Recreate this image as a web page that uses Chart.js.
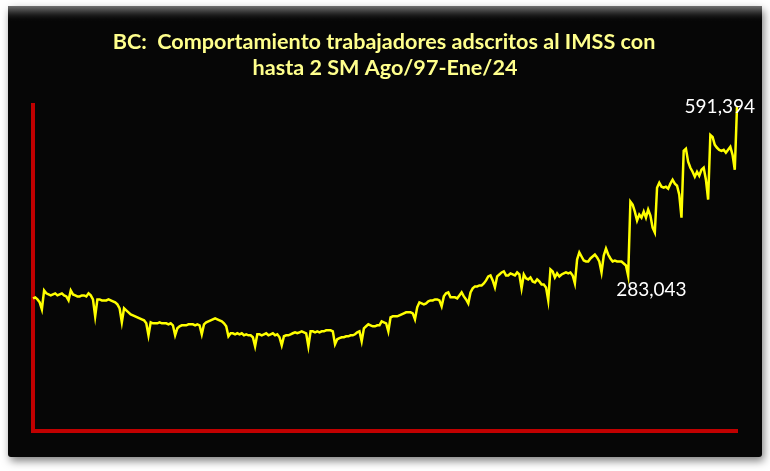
<!DOCTYPE html>
<html>
<head>
<meta charset="utf-8">
<script src="https://cdn.jsdelivr.net/npm/chart.js@4.4.1/dist/chart.umd.min.js"></script>
<style>
  html, body { margin: 0; padding: 0; background: #fff; }
  #graficoBC { display: block; }
</style>
</head>
<body>
<canvas id="graficoBC" width="770" height="471"></canvas>
<script>
// trabajadores con hasta 2 SM, BC, por año (1997 empieza en agosto)
const meses = ['Ene', 'Feb', 'Mar', 'Abr', 'May', 'Jun', 'Jul', 'Ago', 'Sep', 'Oct', 'Nov', 'Dic']

const trab1997 = [242100, 243900, 240200, 234800, 222000]
const trab1998 = [256600, 251200, 249300, 247500, 249300, 251200, 247500, 249300, 251200, 247500, 245700, 238400]
const trab1999 = [256600, 249300, 247500, 245700, 245700, 247500, 247500, 245700, 251200, 247500, 240200, 209300]
const trab2000 = [240200, 240200, 238400, 238400, 238400, 240200, 238400, 236600, 234800, 231100, 223900, 198400]
const trab2001 = [223900, 220200, 216600, 212900, 211100, 209300, 207500, 205700, 203800, 202000, 196600, 174700]
const trab2002 = [198400, 196600, 196600, 196600, 198400, 196600, 196600, 196600, 194700, 196600, 192900, 174700]
const trab2003 = [187500, 191100, 192900, 192900, 192900, 194700, 194700, 194700, 192900, 194700, 192900, 176500]
const trab2004 = [194700, 198400, 200200, 202000, 203800, 205700, 203800, 202000, 200200, 196600, 191100, 172900]
const trab2005 = [178400, 178400, 176500, 178400, 176500, 178400, 174700, 176500, 174700, 174700, 171100, 154700]
const trab2006 = [176500, 176500, 174700, 176500, 178400, 174700, 176500, 178400, 174700, 176500, 171100, 156500]
const trab2007 = [172900, 174700, 174700, 176500, 178400, 180200, 178400, 180200, 182000, 180200, 178400, 154700]
const trab2008 = [182000, 182000, 180200, 182000, 180200, 182000, 182000, 183800, 183800, 183800, 182000, 158300]
const trab2009 = [167400, 169300, 171100, 171100, 172900, 172900, 174700, 174700, 176500, 180200, 182000, 163800]
const trab2010 = [187500, 191100, 194700, 192900, 191100, 191100, 192900, 192900, 200200, 198400, 196600, 182000]
const trab2011 = [207500, 209300, 209300, 209300, 211100, 212900, 214800, 216600, 216600, 216600, 214800, 203800]
const trab2012 = [225700, 234800, 233000, 231100, 233000, 236600, 238400, 238400, 240200, 240200, 238400, 227500]
const trab2013 = [245700, 251200, 253000, 243900, 243900, 243900, 242100, 247500, 253000, 245700, 240200, 233000]
const trab2014 = [253000, 260300, 263900, 263900, 265700, 265700, 269400, 274800, 282100, 283900, 274800, 262100]
const trab2015 = [282100, 285700, 289400, 291200, 283900, 283900, 287600, 285700, 283900, 289400, 285700, 260300]
const trab2016 = [285700, 278500, 276600, 280300, 273000, 271200, 276600, 273000, 267500, 267500, 262100, 238400]
const trab2017 = [294800, 291200, 280300, 287600, 282100, 285700, 287600, 289400, 287600, 289400, 283900, 269400]
const trab2018 = [313000, 325800, 318500, 311200, 309400, 309400, 314900, 318500, 322100, 316700, 309400, 289400]
const trab2019 = [320300, 333100, 322100, 314900, 309400, 311200, 309400, 309400, 309400, 305800, 302100, 283043]
const trab2020 = [418600, 413100, 400400, 384000, 394900, 389500, 400400, 389500, 404000, 393100, 371300, 362200]
const trab2021 = [444100, 453200, 445900, 444100, 445900, 442300, 451400, 458600, 451400, 447700, 431300, 389500]
const trab2022 = [511400, 515100, 491400, 480500, 473200, 464100, 473200, 465900, 476800, 480500, 458600, 422200]
const trab2023 = [540500, 536900, 522300, 516900, 513200, 511400, 513200, 507800, 513200, 518700, 504100, 476800]
const trab2024 = [591394]

const anios = [
    [1997, trab1997], [1998, trab1998], [1999, trab1999], [2000, trab2000], [2001, trab2001],
    [2002, trab2002], [2003, trab2003], [2004, trab2004], [2005, trab2005], [2006, trab2006],
    [2007, trab2007], [2008, trab2008], [2009, trab2009], [2010, trab2010], [2011, trab2011],
    [2012, trab2012], [2013, trab2013], [2014, trab2014], [2015, trab2015], [2016, trab2016],
    [2017, trab2017], [2018, trab2018], [2019, trab2019], [2020, trab2020], [2021, trab2021],
    [2022, trab2022], [2023, trab2023], [2024, trab2024]
]

const titulo = ['BC:  Comportamiento trabajadores adscritos al IMSS con', 'hasta 2 SM Ago/97-Ene/24']
const etiquetaMinimo = 'Dic/19'
const etiquetaFinal = 'Ene/24'

let etiquetas = []
let valores = []
anios.forEach(([anio, datos]) => {
    let inicio = anio === 1997 ? 7 : 0
    datos.forEach((v, i) => {
        etiquetas.push(meses[inicio + i] + '/' + String(anio).slice(2))
        valores.push(v)
    })
})

function formato(n) {
    return n.toLocaleString('en-US')
}

// fondo negro con sombra, titulo y etiquetas
const fondoPanel = {
    id: 'fondoPanel',
    beforeDraw(chart) {
        const ctx = chart.ctx
        ctx.save()
        ctx.fillStyle = '#ffffff'
        ctx.fillRect(0, 0, chart.width, chart.height)
        ctx.shadowColor = 'rgba(0,0,0,0.5)'
        ctx.shadowBlur = 8
        ctx.shadowOffsetX = 2
        ctx.shadowOffsetY = 4
        ctx.fillStyle = '#060606'
        ctx.beginPath()
        ctx.roundRect(8, 6, 754, 451, 3)
        ctx.fill()
        ctx.shadowColor = 'transparent'
        let grad = ctx.createLinearGradient(0, 6, 0, 22)
        grad.addColorStop(0, '#707070')
        grad.addColorStop(0.35, '#3a3a3a')
        grad.addColorStop(1, 'rgba(6,6,6,0)')
        ctx.fillStyle = grad
        ctx.fillRect(8, 6, 754, 16)
        ctx.restore()
    },
    afterDraw(chart) {
        const ctx = chart.ctx
        ctx.save()
        ctx.fillStyle = '#ffff8c'
        ctx.textAlign = 'center'
        ctx.textBaseline = 'middle'
        ctx.font = 'bold 21.6px Lato'
        ctx.fillText(titulo[0], 384, 42)
        ctx.fillText(titulo[1], 385, 68)
        ctx.restore()
    },
    afterDatasetsDraw(chart) {
        const ctx = chart.ctx
        const meta = chart.getDatasetMeta(0)
        const iMin = etiquetas.indexOf(etiquetaMinimo)
        const iFin = etiquetas.indexOf(etiquetaFinal)
        const pMin = meta.data[iMin]
        const pFin = meta.data[iFin]
        ctx.save()
        ctx.fillStyle = '#ffffff'
        ctx.font = '19px Lato'
        ctx.textBaseline = 'middle'
        ctx.textAlign = 'left'
        ctx.fillText(formato(valores[iMin]), pMin.x - 12, pMin.y + 14)
        ctx.textAlign = 'right'
        ctx.fillText(formato(valores[iFin]), pFin.x + 18, pFin.y)
        ctx.restore()
    }
}

const ejeRojo = { display: true, color: '#c00000', width: 4 }

const graficoBC = new Chart(document.querySelector('#graficoBC'), {
    type: 'line',
    data: {
        labels: etiquetas,
        datasets: [{
            label: 'Trabajadores hasta 2 SM',
            data: valores,
            borderColor: '#ffff00',
            borderWidth: 2.5,
            pointRadius: 0,
            tension: 0
        }]
    },
    options: {
        responsive: false,
        animation: false,
        devicePixelRatio: 1,
        layout: { padding: { left: 33, right: 33, top: 105, bottom: 40 } },
        plugins: {
            legend: { display: false },
            title: { display: false },
            tooltip: { enabled: false }
        },
        scales: {
            x: {
                grid: { display: false, drawTicks: false },
                ticks: { display: false },
                border: ejeRojo
            },
            y: {
                min: 0,
                max: 595000,
                grid: { display: false, drawTicks: false },
                ticks: { display: false },
                border: ejeRojo
            }
        }
    },
    plugins: [fondoPanel]
})
</script>
</body>
</html>
